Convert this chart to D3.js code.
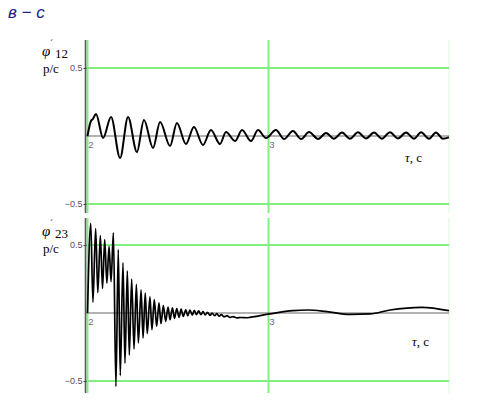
<!DOCTYPE html>
<html>
<head>
<meta charset="utf-8">
<script src="https://cdn.jsdelivr.net/npm/d3@7"></script>
<style>
  body { margin: 0; background: #fff; }
</style>
</head>
<body>
<div id="chart"></div>
<script>
// values: times of extrema (s) and derivative values (rad/s)
const t12 = [2.000, 2.019, 2.030, 2.047, 2.086, 2.130, 2.180, 2.224, 2.273, 2.312,
  2.362, 2.401, 2.456, 2.494, 2.544, 2.588, 2.638, 2.682, 2.732, 2.765,
  2.815, 2.854, 2.903, 2.942, 2.986, 3.041, 3.086, 3.135, 3.180, 3.224,
  3.274, 3.318, 3.362, 3.406, 3.450, 3.494, 3.539, 3.583, 3.627, 3.671,
  3.715, 3.760, 3.804, 3.843, 3.887, 3.925, 3.964, 3.997];
const phi12 = [0, 0.110, 0.125, 0.162, -0.015, 0.140, -0.162, 0.140, -0.118, 0.118,
  -0.088, 0.103, -0.074, 0.096, -0.059, 0.066, -0.066, 0.044, -0.059, 0.029,
  -0.037, 0.044, -0.037, 0.044, -0.015, 0.044, -0.022, 0.037, -0.022, 0.029,
  -0.022, 0.022, -0.020, 0.025, -0.020, 0.027, -0.018, 0.025, -0.020, 0.028,
  -0.018, 0.026, -0.020, 0.027, -0.020, 0.026, -0.020, -0.010];

const t23 = [2.000, 2.018, 2.030, 2.045, 2.057, 2.071, 2.083, 2.095, 2.107, 2.119,
  2.130, 2.143, 2.157, 2.170, 2.181, 2.196, 2.207, 2.220, 2.231, 2.244,
  2.257, 2.270, 2.281, 2.296, 2.307, 2.319, 2.330, 2.345, 2.356, 2.369,
  2.382, 2.395, 2.406, 2.419, 2.432, 2.445, 2.456, 2.469, 2.481, 2.493,
  2.506, 2.517, 2.529, 2.543, 2.554, 2.566, 2.579, 2.590, 2.602, 2.614,
  2.627, 2.638, 2.651, 2.663, 2.677, 2.688, 2.702, 2.715, 2.727, 2.740,
  2.754, 2.771, 2.787, 2.804, 2.826, 2.848, 2.881, 2.898, 3.008, 3.135,
  3.218, 3.323, 3.450, 3.561, 3.671, 3.848, 3.997];
const phi23 = [0, 0.66, 0.08, 0.62, 0.15, 0.57, 0.18, 0.54, 0.22, 0.49,
  0.23, 0.59, -0.54, 0.466, -0.46, 0.37, -0.37, 0.31, -0.31, 0.25,
  -0.265, 0.21, -0.22, 0.17, -0.184, 0.147, -0.152, 0.118, -0.123, 0.098,
  -0.098, 0.074, -0.079, 0.054, -0.061, 0.044, -0.049, 0.037, -0.039, 0.032,
  -0.032, 0.029, -0.025, 0.024, -0.020, 0.022, -0.015, 0.020, -0.012, 0.015,
  -0.012, 0.010, -0.014, 0.004, -0.018, 0.000, -0.020, -0.005, -0.024, -0.012,
  -0.028, -0.020, -0.032, -0.027, -0.036, -0.033, -0.035, -0.032, -0.007, 0.017,
  0.022, 0.010, -0.010, -0.007, 0.022, 0.042, 0.017];

const yTicks = [0.5, -0.5];
const xTicks = [2, 3];

const svg = d3.select("#chart")
  .append("svg")
  .attr("width", 483)
  .attr("height", 403);

const x = d3.scaleLinear().domain([2, 4]).range([87.5, 449.5]);
const xLeft = 85.5, xRight = 449;
const green = "#80f080";

// title
svg.append("text")
  .attr("x", 8).attr("y", 18)
  .attr("font-family", "Liberation Sans, Arial, sans-serif")
  .attr("font-style", "italic")
  .attr("font-size", 17)
  .attr("fill", "#22228a")
  .text("в − с");

const panels = [
  { t: t12, v: phi12, top: 40, bottom: 213, y0: 136, sub: "12", lab: 56, width: 2 },
  { t: t23, v: phi23, top: 218, bottom: 393, y0: 313, sub: "23", lab: 236, width: 1.7 }
];

panels.forEach(function (p) {
  const y = d3.scaleLinear().domain([-0.5, 0.5]).range([p.y0 + 68, p.y0 - 68]);
  const g = svg.append("g");

  // faint right border
  g.append("line")
    .attr("x1", xRight).attr("x2", xRight)
    .attr("y1", p.top).attr("y2", p.bottom)
    .attr("stroke", "#e0f6e0").attr("stroke-width", 1);

  // green grid
  g.selectAll(".gh").data(yTicks).enter().append("line")
    .attr("x1", xLeft).attr("x2", xRight)
    .attr("y1", d => y(d)).attr("y2", d => y(d))
    .attr("stroke", green).attr("stroke-width", 2);
  g.selectAll(".gv").data(xTicks).enter().append("line")
    .attr("x1", d => x(d)).attr("x2", d => x(d))
    .attr("y1", p.top).attr("y2", p.bottom)
    .attr("stroke", green).attr("stroke-width", 2);

  // zero line and y axis
  g.append("line")
    .attr("x1", xLeft).attr("x2", xRight)
    .attr("y1", y(0)).attr("y2", y(0))
    .attr("stroke", "#666").attr("stroke-width", 1);
  g.append("line")
    .attr("x1", xLeft).attr("x2", xLeft)
    .attr("y1", p.top).attr("y2", p.bottom)
    .attr("stroke", "#5a5a5a").attr("stroke-width", 1.6);

  const yAxis = d3.axisLeft(y).tickValues(yTicks).tickSize(3).tickPadding(1)
    .tickFormat(d3.format(".1f"));
  const ya = g.append("g").attr("transform", "translate(" + (xLeft + 1) + ",0)").call(yAxis);
  ya.select(".domain").remove();
  ya.selectAll("line").attr("stroke", "#444");
  ya.selectAll("text")
    .attr("font-family", "Liberation Sans, Arial, sans-serif")
    .attr("font-size", 9).attr("fill", "#505060");

  const xAxis = d3.axisBottom(x).tickValues(xTicks).tickSize(0).tickPadding(5)
    .tickFormat(d3.format("d"));
  const xa = g.append("g").attr("transform", "translate(0," + y(0) + ")").call(xAxis);
  xa.select(".domain").remove();
  xa.selectAll("text")
    .attr("dx", 3)
    .attr("font-family", "Liberation Sans, Arial, sans-serif")
    .attr("font-size", 9.5).attr("fill", "#607080");

  // curve
  const pts = p.t.map((d, i) => [d, p.v[i]]);
  g.append("path")
    .datum(pts)
    .attr("fill", "none")
    .attr("stroke", "#000")
    .attr("stroke-width", p.width)
    .attr("stroke-linejoin", "round")
    .attr("d", d3.line().x(d => x(d[0])).y(d => y(d[1])).curve(d3.curveMonotoneX));

  // axis titles
  const lab = g.append("g").attr("font-family", "Liberation Serif, Times New Roman, serif").attr("fill", "#000");
  lab.append("text").attr("x", 42).attr("y", p.lab).attr("font-size", 15).attr("font-style", "italic").text("φ");
  lab.append("text").attr("x", 50).attr("y", p.lab - 10).attr("font-size", 9).text("´");
  lab.append("text").attr("x", 55).attr("y", p.lab + 2).attr("font-size", 13).text(p.sub);
  lab.append("text").attr("x", 43).attr("y", p.lab + 17).attr("font-size", 13).text("p/c");

  const tl = lab.append("text").attr("x", p.y0 === 136 ? 405 : 412).attr("y", p.y0 + (p.y0 === 136 ? 26 : 33)).attr("font-size", 13);
  tl.append("tspan").attr("font-style", "italic").text("τ");
  tl.append("tspan").text(", c");
});
</script>
</body>
</html>
